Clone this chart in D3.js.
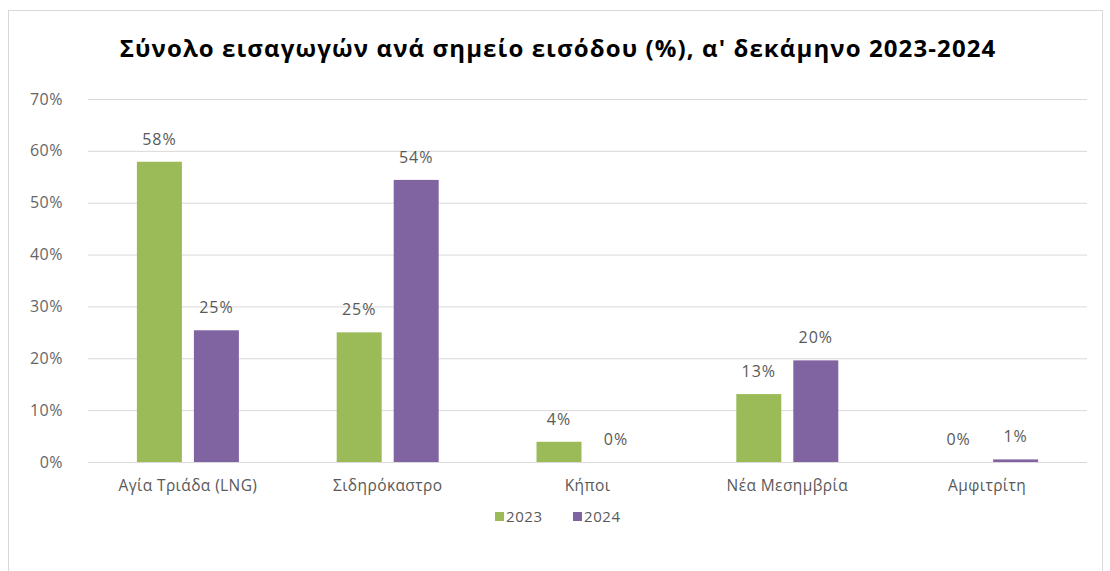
<!DOCTYPE html>
<html><head><meta charset="utf-8">
<script src="https://cdn.jsdelivr.net/npm/d3@7"></script>
<style>body{margin:0;background:#fff;} svg{display:block;}</style>
</head><body>
<svg id="c" width="1110" height="571"></svg>
<script>
const title = "Σύνολο εισαγωγών ανά σημείο εισόδου (%), α' δεκάμηνο 2023-2024";
const categories = ["Αγία Τριάδα (LNG)", "Σιδηρόκαστρο", "Κήποι", "Νέα Μεσημβρία", "Αμφιτρίτη"];
const seriesNames = ["2023", "2024"];
const values2023 = [57.9, 25.0, 3.9, 13.1, 0.0];
const values2024 = [25.4, 54.4, 0.0, 19.6, 0.5];
const yTicks = [0, 10, 20, 30, 40, 50, 60, 70];
const colors = ["#9BBB59", "#8064A2"];

(function(){
const svg = d3.select("#c");
const font = "'Open Sans', 'Noto Sans', sans-serif";

svg.append("rect").attr("x", 8.5).attr("y", 10.5).attr("width", 1094).attr("height", 580)
  .attr("fill", "#fff").attr("stroke", "#d9d9d9");

const pl = 88, pr = 1087, pt = 99, pb = 462;
const x = d3.scaleBand().domain(categories).range([pl, pr]);
const y = d3.scaleLinear().domain([0, 70]).range([pb, pt]);

svg.append("text").attr("x", 558).attr("y", 57).attr("text-anchor", "middle")
  .attr("font-family", font).attr("font-weight", 700).attr("font-size", 24)
  .attr("letter-spacing", 1.1)
  .attr("fill", "#000").text(title);

const yAxis = d3.axisLeft(y).tickValues(yTicks).tickFormat(d => d + "%").tickSize(-(pr - pl)).tickPadding(25);
const gy = svg.append("g").attr("transform", `translate(${pl},0)`).call(yAxis);
gy.select(".domain").remove();
gy.selectAll(".tick line").attr("stroke", "#d9d9d9");
gy.selectAll(".tick text").attr("font-family", font).attr("font-size", 16).attr("letter-spacing", 0.5).attr("fill", "#666");

const xAxis = d3.axisBottom(x).tickSize(0).tickPadding(18);
const gx = svg.append("g").attr("transform", `translate(0,${pb})`).call(xAxis);
gx.select(".domain").remove();
gx.selectAll(".tick text").attr("font-family", font).attr("font-size", 15.5).attr("letter-spacing", 0.4).attr("fill", "#595959");

const barW = 45, gap = 12;
const series = [values2023, values2024];
series.forEach((vals, si) => {
  const g = svg.append("g");
  const xo = c => x(c) + x.bandwidth() / 2 + (si === 0 ? -gap / 2 - barW : gap / 2);
  g.selectAll("rect").data(categories).join("rect")
    .attr("x", c => xo(c)).attr("width", barW)
    .attr("y", (c, i) => y(vals[i])).attr("height", (c, i) => pb - y(vals[i]))
    .attr("fill", colors[si]);
  g.selectAll("text").data(categories).join("text")
    .attr("x", c => xo(c) + barW / 2).attr("y", (c, i) => y(vals[i]) - 17)
    .attr("text-anchor", "middle").attr("font-family", font).attr("font-size", 16).attr("letter-spacing", 1)
    .attr("fill", "#595959")
    .text((c, i) => Math.round(vals[i]) + "%");
});

const leg = svg.append("g").attr("transform", "translate(495,518)");
seriesNames.forEach((n, i) => {
  const gx0 = i * 78;
  leg.append("rect").attr("x", gx0).attr("y", -6).attr("width", 9).attr("height", 9).attr("fill", colors[i]);
  leg.append("text").attr("x", gx0 + 11).attr("y", 4).attr("font-family", font).attr("font-size", 15)
    .attr("letter-spacing", 0.6).attr("fill", "#595959").text(n);
});
})();
</script>
</body></html>
